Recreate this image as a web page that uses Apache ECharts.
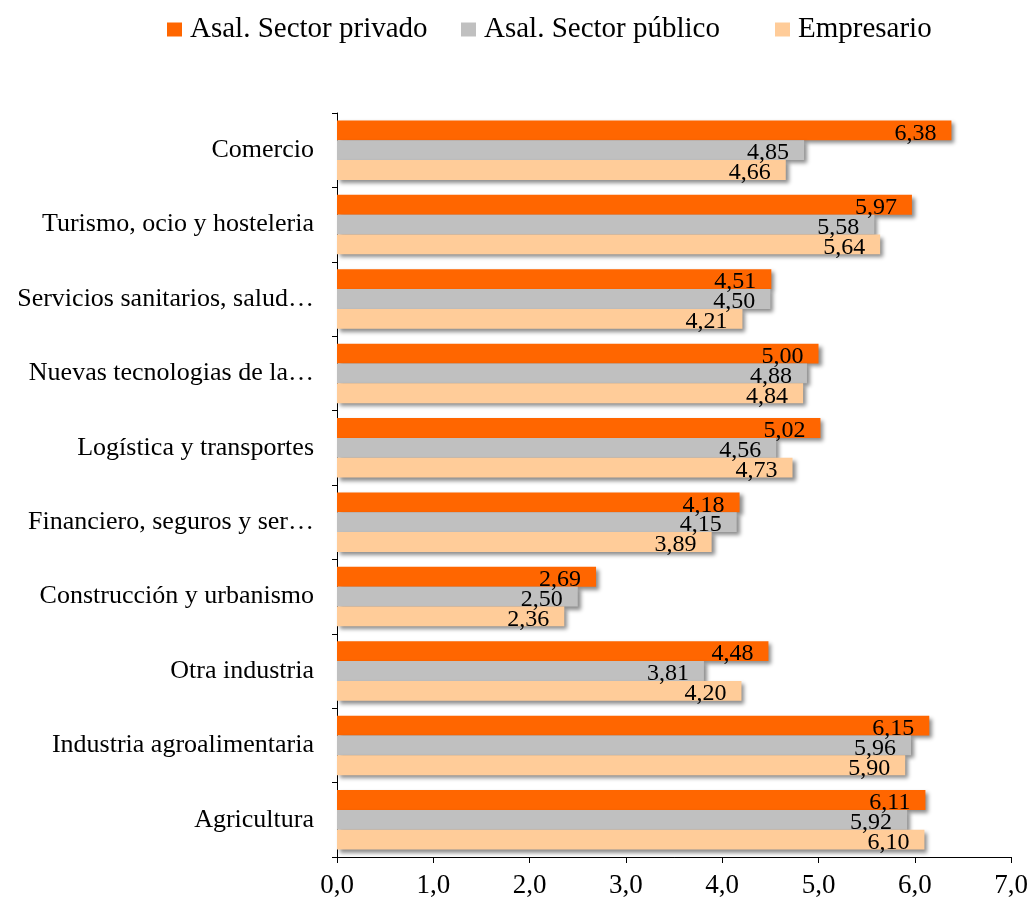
<!DOCTYPE html>
<html>
<head>
<meta charset="utf-8">
<script src="https://cdn.jsdelivr.net/npm/echarts@6/dist/echarts.min.js"></script>
<style>
html,body{margin:0;padding:0;background:#fff;}
#chart{width:1031px;height:899px;}
</style>
</head>
<body>
<div id="chart"></div>
<script>
const categories = ['Comercio','Turismo, ocio y hosteleria','Servicios sanitarios, salud\u2026','Nuevas tecnologias de la\u2026','Logística y transportes','Financiero, seguros y ser\u2026','Construcción y urbanismo','Otra industria','Industria agroalimentaria','Agricultura'];
const seriesNames = ['Asal. Sector privado','Asal. Sector público','Empresario'];
const privado = [6.38,5.97,4.51,5.00,5.02,4.18,2.69,4.48,6.15,6.11];
const publico = [4.85,5.58,4.50,4.88,4.56,4.15,2.50,3.81,5.96,5.92];
const empresario = [4.66,5.64,4.21,4.84,4.73,3.89,2.36,4.20,5.90,6.10];
const colors = ['#FF6600','#C0C0C0','#FFCC99'];

const fmt = v => Number(v).toFixed(2).replace('.', ',');
const serif = 'Liberation Serif';

function mkSeries(name, data, color){
  return {
    name: name, type: 'bar', data: data,
    barGap: '0%', barCategoryGap: '20%',
    itemStyle: {color: color, shadowColor: 'rgba(0,0,0,0.45)', shadowBlur: 4, shadowOffsetX: 3, shadowOffsetY: 3},
    label: {show: true, position: 'insideRight', distance: 15, offset: [0, 3],
      formatter: p => fmt(p.value), color: '#000', fontFamily: serif, fontSize: 24},
    emphasis: {disabled: true}
  };
}

const chart = echarts.init(document.getElementById('chart'));
const legendText = {fontFamily: serif, fontSize: 29, color: '#000', padding: [0,0,0,3]};
chart.setOption({
  animation: false,
  color: colors,
  legend: [
    {data: [seriesNames[0]], left: 162, top: 10, itemWidth: 15, itemHeight: 14, icon: 'rect', textStyle: legendText},
    {data: [seriesNames[1]], left: 456, top: 10, itemWidth: 15, itemHeight: 14, icon: 'rect', textStyle: legendText},
    {data: [seriesNames[2]], left: 770, top: 10, itemWidth: 15, itemHeight: 14, icon: 'rect', textStyle: legendText}
  ],
  grid: {left: 337, right: 19, top: 113, bottom: 42, containLabel: false},
  xAxis: {
    type: 'value', min: 0, max: 7, interval: 1,
    axisLine: {show: true, lineStyle: {color: '#000', width: 1}},
    axisTick: {show: true, length: 6, lineStyle: {color: '#000'}},
    splitLine: {show: false},
    axisLabel: {formatter: v => Number(v).toFixed(1).replace('.', ','), color: '#000', fontFamily: serif, fontSize: 27, margin: 15}
  },
  yAxis: {
    type: 'category', data: categories, inverse: true,
    axisLine: {show: true, lineStyle: {color: '#000', width: 1}},
    axisTick: {show: true, length: 5, inside: false, lineStyle: {color: '#000'}},
    axisLabel: {color: '#000', fontFamily: serif, fontSize: 26, margin: 23}
  },
  series: [
    mkSeries(seriesNames[0], privado, colors[0]),
    mkSeries(seriesNames[1], publico, colors[1]),
    mkSeries(seriesNames[2], empresario, colors[2])
  ]
});
</script>
</body>
</html>
